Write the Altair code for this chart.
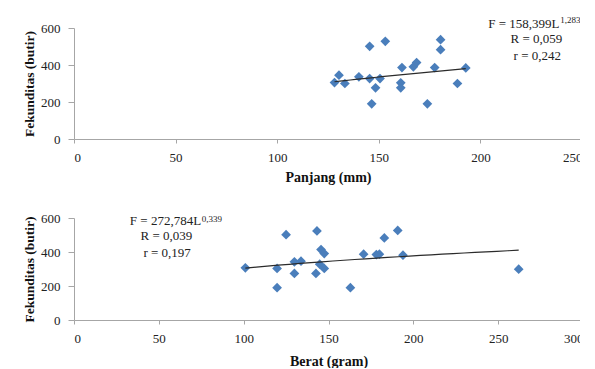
import altair as alt
import pandas as pd

# ---- data ----
panjang = [128.2, 130.4, 133.3, 140.2, 145.5, 145.5, 146.5, 148.4, 150.6, 153.2, 160.8,
           160.8, 161.4, 167.0, 168.6, 173.9, 177.5, 180.4, 180.4, 188.7, 192.8]
fek_panjang = [305, 345, 300, 336, 501, 327, 190, 277, 327, 528, 304,
               277, 386, 390, 413, 190, 386, 537, 483, 300, 384]

berat = [101.0, 119.7, 119.7, 125.0, 129.9, 129.9, 133.8, 143.2, 142.6, 145.6, 147.5,
         144.8, 147.5, 162.9, 170.7, 178.2, 180.0, 182.9, 190.8, 193.9, 262.1]
fek_berat = [307, 303, 190, 502, 342, 274, 346, 524, 274, 414, 391,
             328, 303, 190, 387, 385, 387, 483, 527, 381, 299]

y_ticks = [0, 200, 400, 600]
x_ticks_top = [0, 50, 100, 150, 200, 250]
x_ticks_bottom = [0, 50, 100, 150, 200, 250, 300]

ann_top_main = "F = 158,399L"
ann_top_sup = "1,283"
ann_top_lines = ["R = 0,059", "r = 0,242"]
ann_bot_main = "F = 272,784L"
ann_bot_sup = "0,339"
ann_bot_lines = ["R = 0,039", "r = 0,197"]

FONT = "Liberation Serif"
BLUE = "#4a7ebb"


def panel(xs, ys, xticks, xtitle, w, h, main, sup, lines, main_xy, sup_xy, line_xy, title_pad):
    df = pd.DataFrame({"x": xs, "y": ys})
    xdom = [xticks[0], xticks[-1]]
    x = alt.X("x:Q", scale=alt.Scale(domain=xdom, nice=False),
              axis=alt.Axis(values=xticks, title=xtitle, titlePadding=title_pad))
    y = alt.Y("y:Q", scale=alt.Scale(domain=[0, 600], nice=False),
              axis=alt.Axis(values=y_ticks, title="Fekunditas (butir)",
                            labelOverlap=False, tickCount=4))
    base = alt.Chart(df)
    pts = base.mark_point(shape="diamond", filled=True, size=95, color=BLUE,
                          opacity=1).encode(x=x, y=y)
    trend = base.transform_regression("x", "y", method="pow").mark_line(
        color="#2b2b2b", strokeWidth=1.2).encode(x=x, y=y)

    mdf = pd.DataFrame({"x": [main_xy[0]], "y": [main_xy[1]], "t": [main]})
    sdf = pd.DataFrame({"x": [sup_xy[0]], "y": [sup_xy[1]], "t": [sup]})
    ldf = pd.DataFrame({"x": [line_xy[0][0], line_xy[1][0]],
                        "y": [line_xy[0][1], line_xy[1][1]], "t": lines})
    tm = alt.Chart(mdf).mark_text(font=FONT, fontSize=13, align="right", color="#222").encode(
        x=x, y=y, text="t:N")
    ts = alt.Chart(sdf).mark_text(font=FONT, fontSize=9, align="left", color="#222").encode(
        x=x, y=y, text="t:N")
    tl = alt.Chart(ldf).mark_text(font=FONT, fontSize=13, align="center", color="#222").encode(
        x=x, y=y, text="t:N")
    return alt.layer(pts, trend, tm, ts, tl).properties(width=w, height=h)


top = panel(panjang, fek_panjang, x_ticks_top, "Panjang (mm)", 508, 111,
            ann_top_main, ann_top_sup, ann_top_lines,
            (238.9, 623), (239.3, 641), [(227.6, 542), (228.0, 451)], 6)
bottom = panel(berat, fek_berat, x_ticks_bottom, "Berat (gram)", 509, 102,
               ann_bot_main, ann_bot_sup, ann_bot_lines,
               (74.9, 580), (75.3, 596), [(54.5, 494), (54.9, 397)], 9)

chart = alt.vconcat(top, bottom, spacing=79, bounds="flush").properties(
    padding={"left": 14, "top": 8, "right": -4, "bottom": 0}
).configure_view(stroke=None).configure_axis(
    grid=False, labelOverlap=False,
    labelFont=FONT, labelFontSize=13, labelColor="#222",
    titleFont=FONT, titleFontSize=14, titleFontWeight="bold", titleColor="#111",
    domainColor="#a6a6a6", tickColor="#a6a6a6",
).configure_axisX(tickSize=4, labelPadding=8).configure_axisY(
    tickSize=6, labelPadding=8, titlePadding=4, titleFontSize=13.5)

chart.save("out.html", embed_options={"renderer": "svg", "actions": False})
